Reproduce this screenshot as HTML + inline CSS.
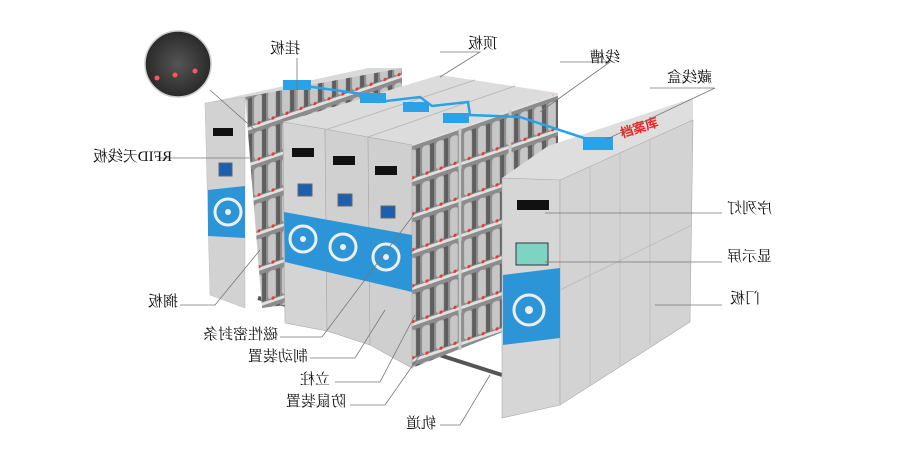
<!DOCTYPE html>
<html><head><meta charset="utf-8"><style>
html,body{margin:0;padding:0;background:#fff;width:900px;height:451px;overflow:hidden}
svg{display:block}
.t{font-family:"Liberation Serif","Noto Serif CJK SC",serif;font-size:15px;fill:#111}
.l{stroke:#777;stroke-width:0.8;fill:none}
</style></head><body>
<svg width="900" height="451" viewBox="0 0 900 451" xmlns="http://www.w3.org/2000/svg">
<defs>
<pattern id="slots" width="14" height="36" patternUnits="userSpaceOnUse" patternTransform="skewY(-19)">
<rect width="14" height="36" fill="#8c8c8c"/><rect x="2" y="4" width="8" height="28" rx="3" fill="#c6c6c6"/><rect x="10" y="4" width="4" height="28" fill="#5e5e5e"/><rect y="33" width="14" height="3" fill="#e0e0e0"/><circle cx="7" cy="32" r="1.6" fill="#e33"/></pattern>
<radialGradient id="ins" cx="0.5" cy="0.5" r="0.5"><stop offset="0" stop-color="#555"/><stop offset="1" stop-color="#2a2a2a"/></radialGradient>
</defs>
<line x1="258" y1="298" x2="290" y2="306" stroke="#555" stroke-width="4"/>
<line x1="430" y1="352" x2="502" y2="375" stroke="#555" stroke-width="4"/>
<!-- back left cabinet -->
<polygon points="245,95 402,68 402,290 262,308" fill="url(#slots)"/>
<polygon points="205,103 368,68 402,68 245,97" fill="#d9d9d9"/>
<polygon points="205,103 245,97 245,308 210,295" fill="#d2d2d2" stroke="#bbb" stroke-width="0.5"/>
<polygon points="208,190 245,186 245,238 208,236" fill="#2b95d8"/>
<circle cx="228" cy="212" r="13" fill="none" stroke="#eee" stroke-width="3"/>
<circle cx="228" cy="212" r="3" fill="#eee"/>
<rect x="213" y="128" width="20" height="8" fill="#111"/>
<rect x="219" y="163" width="13" height="13" fill="#1a5fb0" stroke="#666"/>
<!-- middle -->
<polygon points="412,145 558,93 558,310 412,368" fill="url(#slots)"/>
<line x1="460" y1="128" x2="460" y2="350" stroke="#ccc" stroke-width="3"/>
<line x1="510" y1="110" x2="510" y2="330" stroke="#ccc" stroke-width="3"/>
<polygon points="283,122 412,145 558,93 440,75" fill="#dcdcdc"/>
<line x1="325" y1="130" x2="475" y2="80" stroke="#bbb"/>
<line x1="368" y1="137" x2="515" y2="86" stroke="#bbb"/>
<polygon points="283,122 325,129 327,331 285,323" fill="#d4d4d4" stroke="#aaa" stroke-width="0.6"/>
<polygon points="325,129 368,137 370,345 327,331" fill="#d0d0d0" stroke="#aaa" stroke-width="0.6"/>
<polygon points="368,137 412,145 412,368 370,345" fill="#cfcfcf" stroke="#aaa" stroke-width="0.6"/>
<polygon points="284,212 412,235 412,292 285,262" fill="#2b95d8"/>
<g fill="none" stroke="#eee" stroke-width="3"><circle cx="303" cy="239" r="13"/><circle cx="343" cy="247" r="13"/><circle cx="386" cy="257" r="13"/></g>
<g fill="#eee"><circle cx="303" cy="239" r="3"/><circle cx="343" cy="247" r="3"/><circle cx="386" cy="257" r="3"/></g>
<g fill="#111"><rect x="292" y="148" width="22" height="9"/><rect x="333" y="156" width="22" height="9"/><rect x="375" y="166" width="22" height="9"/></g>
<g fill="#1a5fb0" stroke="#666"><rect x="298" y="184" width="14" height="12"/><rect x="338" y="194" width="14" height="12"/><rect x="381" y="206" width="14" height="12"/></g>
<!-- right cabinet -->
<polygon points="502,178 548,146 693,98 693,120 560,180" fill="#dedede"/>
<polygon points="502,178 560,180 560,405 502,418" fill="#d6d6d6" stroke="#aaa" stroke-width="0.6"/>
<polygon points="560,180 693,120 690,322 560,405" fill="#d3d3d3" stroke="#aaa" stroke-width="0.6"/>
<g stroke="#bbb" fill="none" stroke-width="0.8"><line x1="590" y1="166" x2="590" y2="385"/><line x1="620" y1="153" x2="620" y2="365"/><line x1="650" y1="139" x2="650" y2="345"/><line x1="560" y1="290" x2="692" y2="225"/></g>
<polygon points="503,275 560,268 560,338 503,345" fill="#2b95d8"/>
<circle cx="529" cy="310" r="15" fill="none" stroke="#eee" stroke-width="3"/><circle cx="529" cy="310" r="4" fill="#eee"/>
<rect x="517" y="200" width="32" height="10" fill="#111"/>
<rect x="516" y="243" width="32" height="22" fill="#7fd3c3" stroke="#333"/>
<text x="622" y="138" font-family="Liberation Sans,Noto Sans CJK SC,sans-serif" font-size="13" font-weight="bold" fill="#e22" transform="rotate(-18 622 138)">档案库</text>
<!-- cable -->
<polyline points="298,85 370,95 378,102 420,97 432,106 468,102 470,115 520,117 590,140" fill="none" stroke="#29a2e8" stroke-width="2.5"/>
<g fill="#29a2e8"><rect x="283" y="80" width="28" height="10"/><rect x="360" y="93" width="26" height="10"/><rect x="403" y="102" width="26" height="10"/><rect x="443" y="113" width="26" height="10"/><rect x="583" y="137" width="30" height="13"/></g>
<!-- inset -->
<circle cx="178" cy="64" r="33" fill="url(#ins)" stroke="#ccc" stroke-width="1.5"/>
<g fill="#f55"><circle cx="157" cy="78" r="2.5"/><circle cx="175" cy="75" r="2.5"/><circle cx="195" cy="71" r="2.5"/></g>
<g class="l">
<polyline points="297,58 297,108"/><polyline points="210,90 255,130"/>
<polyline points="440,52 480,52 440,77"/>
<polyline points="560,62 610,62 540,112"/>
<polyline points="650,88 715,88 605,140"/>
<polyline points="160,158 245,158 255,158"/>
<polyline points="545,213 722,213"/>
<polyline points="545,262 722,262"/>
<polyline points="655,305 722,305"/>
<polyline points="180,305 215,305 260,250"/>
<polyline points="280,337 322,337 415,213"/>
<polyline points="310,358 355,358 385,310"/>
<polyline points="335,382 380,382 415,315"/>
<polyline points="350,405 385,405 420,355"/>
<polyline points="440,425 460,425 490,375"/>
</g>
<g class="t">
<text transform="translate(300,53) scale(-1,1)">挂板</text>
<text transform="translate(498,48) scale(-1,1)">顶板</text>
<text transform="translate(620,62) scale(-1,1)">线槽</text>
<text transform="translate(712,82) scale(-1,1)">藏线盒</text>
<text transform="translate(172,161) scale(-1,1)">RFID天线板</text>
<text transform="translate(772,213) scale(-1,1)">序列灯</text>
<text transform="translate(772,261) scale(-1,1)">显示屏</text>
<text transform="translate(760,303) scale(-1,1)">门板</text>
<text transform="translate(178,306) scale(-1,1)">搁板</text>
<text transform="translate(278,339) scale(-1,1)">磁性密封条</text>
<text transform="translate(308,361) scale(-1,1)">制动装置</text>
<text transform="translate(330,384) scale(-1,1)">立柱</text>
<text transform="translate(346,406) scale(-1,1)">防鼠装置</text>
<text transform="translate(436,428) scale(-1,1)">轨道</text>
</g>
</svg>
</body></html>
